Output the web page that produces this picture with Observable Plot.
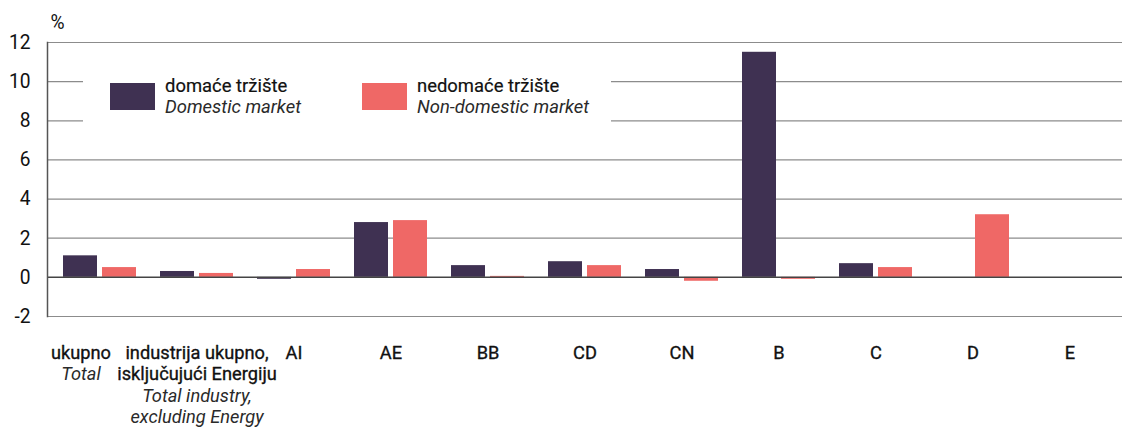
<!DOCTYPE html>
<html>
<head>
<meta charset="utf-8">
<script src="https://cdn.jsdelivr.net/npm/d3@7"></script>
<script src="https://cdn.jsdelivr.net/npm/@observablehq/plot@0.6"></script>
<style>
  html, body { margin: 0; padding: 0; background: #fff; }
  #wrap { position: relative; width: 1122px; height: 432px; font-family: Roboto, "Noto Sans", sans-serif; }
  #legend { position: absolute; left: 83px; top: 64px; width: 528px; height: 70px; background: #fff; }
  .item { position: absolute; top: 0; }
  .sw { position: absolute; top: 19px; width: 45px; height: 27px; }
  .lt { position: absolute; top: 11px; white-space: nowrap; font-size: 19px; line-height: 21px; color: #111; font-weight: 400; -webkit-text-stroke: 0.2px #111; transform: scaleX(0.97); transform-origin: 0 0; }
  .lt i { font-weight: 400; color: #2a2a2a; -webkit-text-stroke: 0; }
</style>
</head>
<body>
<div id="wrap">
  <div id="chart"></div>
  <div id="legend"></div>
</div>
<script>
const categories = ["ukupno", "industrija", "AI", "AE", "BB", "CD", "CN", "B", "C", "D", "E"];
const mainLabels = ["ukupno", "industrija ukupno,\nisključujući Energiju", "AI", "AE", "BB", "CD", "CN", "B", "C", "D", "E"];
const englishLabels = ["Total", "Total industry,\nexcluding Energy", "", "", "", "", "", "", "", "", ""];
const domestic = [1.1, 0.3, -0.1, 2.8, 0.6, 0.8, 0.4, 11.5, 0.7, 0, 0];
const nonDomestic = [0.5, 0.2, 0.4, 2.9, 0.05, 0.6, -0.2, -0.1, 0.5, 3.2, 0];
const yTicks = [-2, 0, 2, 4, 6, 8, 10, 12];
const seriesNames = ["domaće tržište", "nedomaće tržište"];
const seriesEnglish = ["Domestic market", "Non-domestic market"];
const colors = ["#3f3152", "#ef6866"];

const rows = categories.map((c, i) => ({
  cat: c,
  dom: domestic[i],
  non: nonDomestic[i],
  main: mainLabels[i],
  eng: englishLabels[i] ? "\n".repeat(mainLabels[i].split("\n").length) + englishLabels[i] : ""
}));

const font = 'Roboto, "Noto Sans", sans-serif';
const labelOpts = { x: "cat", frameAnchor: "bottom", lineAnchor: "top", dy: 27, fontSize: 19, lineHeight: 1.13 };
const medium = { fill: "#111", stroke: "#111", strokeWidth: 0.35 };
const labelMarks = [];
for (const [cat, shift] of [["ukupno", -19], [null, 0]]) {
  const sub = rows.filter(r => cat ? r.cat === cat : r.cat !== "ukupno");
  labelMarks.push(Plot.text(sub, { ...labelOpts, ...medium, text: "main", dx: shift }));
  labelMarks.push(Plot.text(sub, { ...labelOpts, text: "eng", dx: shift, fill: "#2a2a2a", fontStyle: "italic" }));
}

const chart = Plot.plot({
  width: 1122,
  height: 432,
  marginLeft: 47,
  marginRight: 0,
  marginTop: 42,
  marginBottom: 116,
  style: { fontFamily: font, background: "#fff" },
  x: { domain: categories, padding: 0, axis: null },
  y: { domain: [-2, 12], ticks: yTicks, axis: null },
  marks: [
    Plot.ruleY(yTicks.filter(d => d !== 0), { stroke: "#8c8c8c", strokeWidth: 1.2 }),
    Plot.barY(rows, { x: "cat", y: "dom", fill: colors[0], insetLeft: 12, insetRight: 51 }),
    Plot.barY(rows, { x: "cat", y: "non", fill: colors[1], insetLeft: 51, insetRight: 12 }),
    Plot.ruleY([0], { stroke: "#444", strokeWidth: 1.5 }),
    Plot.frame({ anchor: "left", stroke: "#555", strokeWidth: 1.5 }),
    Plot.axisY({ ticks: yTicks, tickSize: 0, tickPadding: 17, fontSize: 20, label: null, ...medium, tickFormat: d => String(d) }),
    Plot.text(["%"], { frameAnchor: "top-left", dx: 3, dy: -28, fontSize: 20, fill: "#111", textAnchor: "start" }),
    ...labelMarks
  ]
});
// slightly condense the text horizontally around each text's own anchor point
chart.querySelectorAll("text").forEach(t => {
  const tr = t.getAttribute("transform") || "";
  t.setAttribute("transform", tr + " scale(0.96,1)");
});
document.getElementById("chart").appendChild(chart);

const legend = document.getElementById("legend");
const lefts = [27, 279];
seriesNames.forEach((n, i) => {
  const it = document.createElement("div");
  it.className = "item";
  it.style.left = lefts[i] + "px";
  it.innerHTML = `<div class="sw" style="left:0;background:${colors[i]}"></div><div class="lt" style="left:55px">${n}<br><i>${seriesEnglish[i]}</i></div>`;
  legend.appendChild(it);
});
</script>
</body>
</html>
